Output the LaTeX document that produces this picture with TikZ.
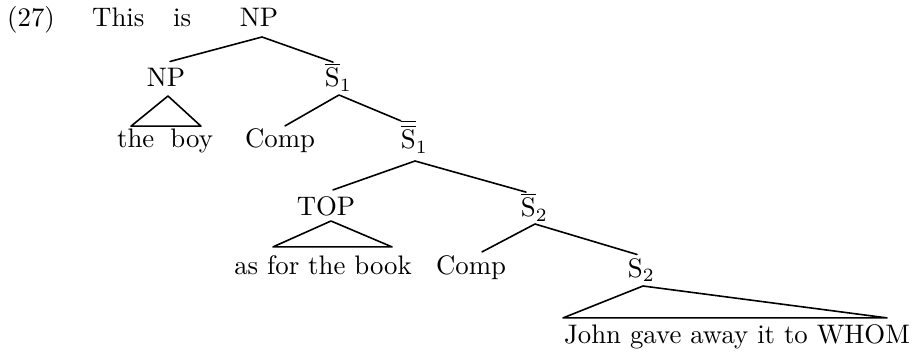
\documentclass[tikz,border=0pt]{standalone}
\usepackage{graphicx}
\usepackage{mathtools}
\usetikzlibrary{calc}

% every label is set at 10pt and enlarged uniformly
\newcommand{\lb}[1]{\scalebox{2.68}{#1}}

\begin{document}
\begin{tikzpicture}[x=1pt,y=-1pt,
  lbl/.style={inner sep=0pt, anchor=base},
  branch/.style={line width=1.6pt, line join=round, line cap=round}]
\useasboundingbox (0,0) rectangle (917,355);

% example number and the words before the tree
\node[lbl, anchor=base west] (ex)   at (7,27)   {\lb{(27)}};
\node[lbl, anchor=base west] (this) at (92,27)  {\lb{This}};
\node[lbl, anchor=base west] (is)   at (173,27) {\lb{is}};

% category labels
\node[lbl] (np0)   at (259,27)  {\lb{NP}};
\node[lbl] (np1)   at (166,87)  {\lb{NP}};
\node[lbl] (sb1)   at (333,87)  {\lb{$\overline{\mathrm S}_{\mathrlap{1}}$}};
\node[lbl] (comp1) at (280,148) {\lb{Comp}};
\node[lbl] (sbb1)  at (409,149) {\lb{$\overline{\overline{\mathrm S}}_{\mathrlap{1}}$}};
\node[lbl] (top)   at (326,216) {\lb{TOP}};
\node[lbl] (sb2)   at (529,217) {\lb{$\overline{\mathrm S}_{\mathrlap{2}}$}};
\node[lbl] (comp2) at (471,274) {\lb{Comp}};
\node[lbl] (s2)    at (636,277) {\lb{$\mathrm S_{\mathrlap{2}}$}};

% terminal strings
\node[lbl] (the)  at (165,148) {\lb{the\hspace{0.6em}boy}};
\node[lbl] (book) at (323,274) {\lb{as for the book}};
\node[lbl] (john) at (737,343) {\lb{John gave away it to WHOM}};

% branching points just below each mother label
\coordinate (np0a)  at ($(np0.base)+(3,10)$);
\coordinate (np1a)  at ($(np1.base)+(2,9)$);
\coordinate (sb1a)  at ($(sb1.base)+(6,8)$);
\coordinate (sbb1a) at ($(sbb1.base)+(6,12)$);
\coordinate (topa)  at ($(top.base)+(5,5)$);
\coordinate (sb2a)  at ($(sb2.base)+(6,7)$);
\coordinate (s2a)   at ($(s2.base)+(7,9)$);

% branches
\draw[branch] ($(np1.north)+(4,-7)$) -- (np0a) -- ($(sb1.north)+(0,-1)$);
\draw[branch] ($(comp1.north)+(5,-3)$) -- (sb1a) -- ($(sbb1.north west)+(0,1)$);
\draw[branch] ($(top.north)+(7,-7)$) -- (sbb1a) -- ($(sb2.north)+(-3,-1)$);
\draw[branch] ($(comp2.north)+(11,-3)$) -- (sb2a) -- ($(s2.north)+(1,-4)$);

% triangles over unanalysed strings
\draw[branch] (np1a) -- ($(the.north)+(-34,-3)$) -- ($(the.north)+(36,-3)$) -- cycle;
\draw[branch] (topa) -- ($(book.north)+(-50,-8)$) -- ($(book.north)+(69,-8)$) -- cycle;
\draw[branch] (s2a) -- ($(john.north)+(-174,-6)$) -- ($(john.north)+(150,-6)$) -- cycle;
\end{tikzpicture}
\end{document}
